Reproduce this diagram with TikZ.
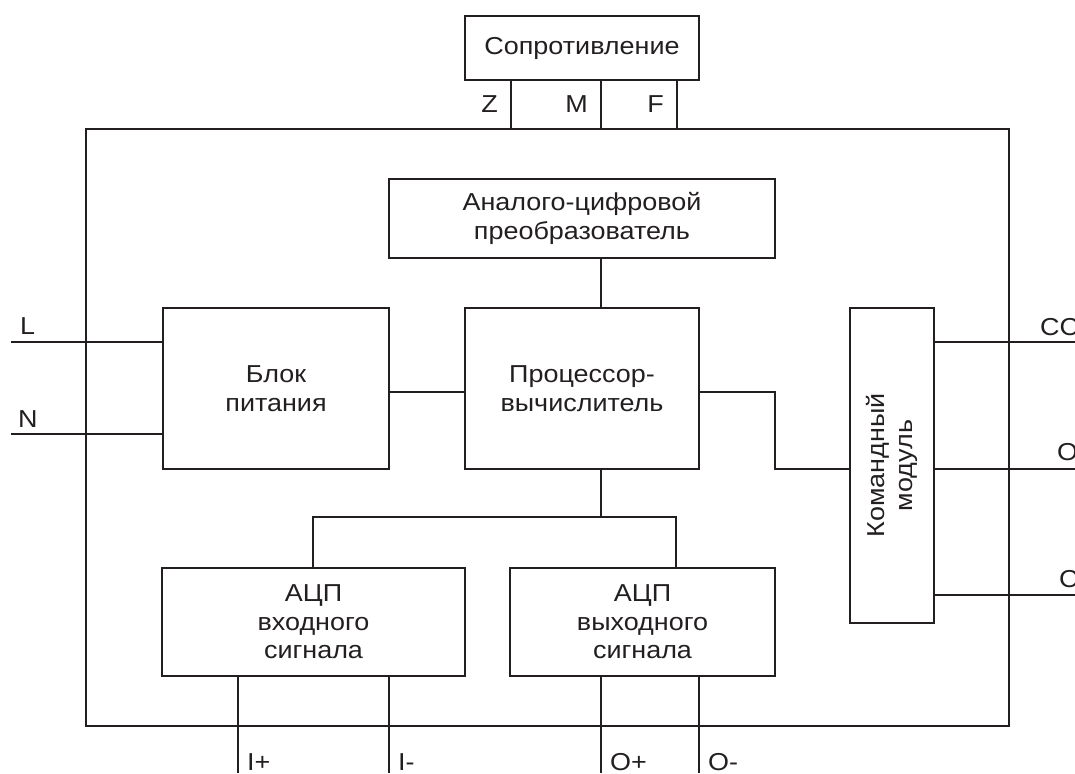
\documentclass[tikz,border=0pt]{standalone}
\usepackage{fontspec}
\setmainfont{Liberation Sans}[FakeStretch=1.1]
\definecolor{ink}{HTML}{231F20}
\begin{document}
\begin{tikzpicture}[x=1pt,y=-1pt,
  ln/.style={line width=2.2pt, draw=ink},
  blk/.style={draw=ink, line width=2.2pt, inner sep=0pt, outer sep=0pt, align=center,
    font=\fontsize{24.5}{28.5}\selectfont, text=ink},
  txt/.style={inner sep=0pt, align=center, font=\fontsize{24.5}{28.5}\selectfont, text=ink},
  lbl/.style={inner sep=0pt, font=\fontsize{24.5}{28.5}\selectfont, text=ink, anchor=base west},
  lblr/.style={lbl, anchor=base east},
]
\useasboundingbox (0,0) rectangle (1075,773);
% columns and rows
\coordinate (c313) at (313,0);
\coordinate (c511) at (511,0);
\coordinate (c601) at (601,0);
\coordinate (c676) at (676,0);
\coordinate (c677) at (677,0);
\coordinate (c775) at (775,0);
\coordinate (r392) at (0,392);
\coordinate (r469) at (0,469);
\coordinate (r517) at (0,517);
% frame and blocks
\node[blk, minimum width=923, minimum height=597] (frame) at (547.5,427.5) {};
\node[blk, fill=white, minimum width=234, minimum height=64] (sopr) at (582,48) {Сопротивление};
\node[blk, minimum width=386, minimum height=79] (adc) at (582,218.5) {Аналого-цифровой\\преобразователь};
\node[blk, minimum width=226, minimum height=161] (blok) at (276,388.5) {Блок\\питания};
\node[blk, minimum width=234, minimum height=161] (proc) at (582,388.5) {Процессор-\\вычислитель};
\node[blk, minimum width=84, minimum height=315] (cmd) at (892,465.5) {};
\node[txt, rotate=90] (cmdtext) at (cmd.center) {Командный\\модуль};
\node[blk, minimum width=303, minimum height=108] (adc1) at (313.5,622) {АЦП\\входного\\сигнала};
\node[blk, minimum width=265, minimum height=108] (adc2) at (642.5,622) {АЦП\\выходного\\сигнала};
% resistance wires
\draw[ln] (sopr.south -| c511) -- (frame.north -| c511);
\draw[ln] (sopr.south -| c601) -- (frame.north -| c601);
\draw[ln] (sopr.south -| c677) -- (frame.north -| c677);
\node[lblr] (lz) at (498,113) {Z};
\node[lblr] (lm) at (588,113) {M};
\node[lblr] (lf) at (664,113) {F};
% internal connectors
\draw[ln] (adc.south -| c601) -- (proc.north -| c601);
\draw[ln] (blok.east |- r392) -- (proc.west |- r392);
\draw[ln] (proc.east |- r392) -- (c775 |- r392) -- (c775 |- r469) -- (cmd.west |- r469);
\draw[ln] (proc.south -| c601) -- (c601 |- r517);
\draw[ln] (adc1.north -| c313) -- (c313 |- r517) -- (c676 |- r517) -- (adc2.north -| c676);
% mains inputs
\coordinate (Lend) at (11,342);
\coordinate (Nend) at (11,434);
\draw[ln] (Lend) -- (blok.west |- Lend);
\draw[ln] (Nend) -- (blok.west |- Nend);
\node[lbl] (ll) at (20,334) {L};
\node[lbl] (ln) at (18,427) {N};
% command outputs
\coordinate (CCend) at (1075,342);
\coordinate (Oend) at (1075,469);
\coordinate (Cend) at (1075,595);
\draw[ln] (cmd.east |- CCend) -- (CCend);
\draw[ln] (cmd.east |- Oend) -- (Oend);
\draw[ln] (cmd.east |- Cend) -- (Cend);
\node[lbl] (lcc) at (1040,335) {CC};
\node[lbl] (lo) at (1057,460) {O};
\node[lbl] (lc) at (1059,587) {C};
% signal pins
\coordinate (pIp) at (238,773);
\coordinate (pIm) at (389,773);
\coordinate (pOp) at (601,773);
\coordinate (pOm) at (699,773);
\draw[ln] (adc1.south -| pIp) -- (pIp);
\draw[ln] (adc1.south -| pIm) -- (pIm);
\draw[ln] (adc2.south -| pOp) -- (pOp);
\draw[ln] (adc2.south -| pOm) -- (pOm);
\node[lbl] (lip) at (247,770) {I+};
\node[lbl] (lim) at (398,770) {I-};
\node[lbl] (lop) at (610,770) {O+};
\node[lbl] (lom) at (708,770) {O-};
\end{tikzpicture}
\end{document}
